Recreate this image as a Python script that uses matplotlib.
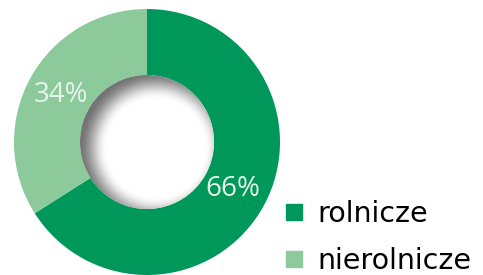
import numpy as np
import matplotlib.pyplot as plt
from matplotlib.lines import Line2D
from matplotlib.patches import Circle

# data
labels = ['rolnicze', 'nierolnicze']
shares = [66, 34]
colors = ['#00985A', '#8CCA9C']

W, H = 483, 275
cx, cy = 147, H - 142      # centre of the ring (pixels, y up)
r_out, r_in = 133, 67

fig = plt.figure(figsize=(W / 100, H / 100), dpi=100)
ax = fig.add_axes([0, 0, 1, 1])

wedges, texts, autotexts = ax.pie(
    shares, colors=colors, startangle=90, counterclock=False,
    radius=r_out, center=(cx, cy),
    wedgeprops=dict(width=r_out - r_in, linewidth=0),
    autopct=lambda p: f'{p:.0f}%', pctdistance=0.74,
    textprops=dict(color='#E6F4E8', fontsize=20, family='Open Sans'))

# inner shadow inside the hole (light from upper left)
xs = np.linspace(cx - r_in, cx + r_in, 300)
ys = np.linspace(cy - r_in, cy + r_in, 300)
X, Y = np.meshgrid(xs, ys)
d = np.hypot(X - (cx + 9), Y - (cy - 6))
s = np.clip((d - (r_in - 18)) / 28, 0, 1)
s = s * s * (3 - 2 * s)
g = 1 - 0.55 * s
img = np.dstack([g, g, g])
hole = Circle((cx, cy), r_in, transform=ax.transData, facecolor='none', edgecolor='none')
ax.add_patch(hole)
im = ax.imshow(img, extent=(cx - r_in, cx + r_in, cy - r_in, cy + r_in),
               origin='lower', interpolation='bilinear', zorder=3)
im.set_clip_path(hole)

handles = [Line2D([], [], marker='s', ls='', color=c, markersize=11) for c in colors]
ax.legend(handles, labels, loc='upper left', bbox_to_anchor=(286 / W, (H - 200) / H),
          frameon=False, borderpad=0, borderaxespad=0, handlelength=0.55,
          handletextpad=0.55, labelspacing=0.68,
          prop=dict(family='DejaVu Sans', size=20.5))

ax.set_xlim(0, W)
ax.set_ylim(0, H)
ax.set_aspect('equal')
ax.axis('off')

fig.savefig('out.png', dpi=100)
